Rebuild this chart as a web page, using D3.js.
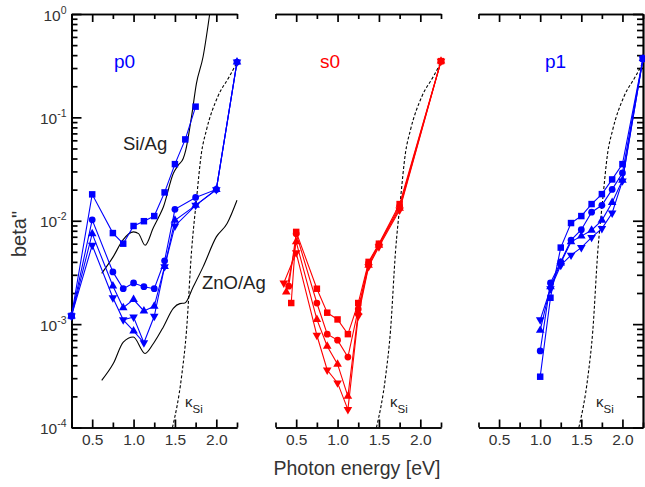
<!DOCTYPE html>
<html>
<head>
<meta charset="utf-8">
<script src="https://cdn.jsdelivr.net/npm/d3@7"></script>
<style>
body { margin: 0; background: #fff; }
text { font-family: "Liberation Sans", Arial, sans-serif; }
</style>
</head>
<body>
<div id="grafico"></div>
<script>
const WIDTH = 645;
const HEIGHT = 487;

// axis ticks
const energyTicks = [0.5, 1.0, 1.5, 2.0];
const energyMinor = [0.25, 0.75, 1.25, 1.75, 2.25];
const decades = [1e-4, 1e-3, 1e-2, 1e-1, 1];
const decadeExp = ["-4", "-3", "-2", "-1", "0"];

// p0 panel
const p0SquareE = [0.25, 0.5, 0.75, 0.875, 1.0, 1.125, 1.25, 1.375, 1.5, 1.625, 1.75];
const p0Square = [1.2e-3, 0.018, 7.6e-3, 6.0e-3, 8.9e-3, 9.9e-3, 0.0111, 0.0188, 0.0353, 0.0612, 0.127];
const p0E = [0.25, 0.5, 0.75, 0.875, 1.0, 1.125, 1.25, 1.375, 1.5, 1.75, 2.0, 2.25];
const p0Circle = [1.2e-3, 0.0102, 3.2e-3, 2.2e-3, 2.5e-3, 2.3e-3, 2.2e-3, 4.1e-3, 0.0129, 0.0168, 0.0201, 0.343];
const p0Up = [1.2e-3, 7.5e-3, 2.34e-3, 1.44e-3, 1.73e-3, 1.34e-3, 1.49e-3, 3.6e-3, 0.0101, 0.0141, 0.0201, 0.343];
const p0Down = [1.2e-3, 5.8e-3, 1.8e-3, 1.1e-3, 1.17e-3, 6.6e-4, 1.19e-3, 3.6e-3, 0.0089, 0.0141, 0.02, 0.343];
const p0ExtraE = [0.875, 1.0, 1.125];
const p0Extra = [1.1e-3, 8.6e-4, 6.6e-4];

// s0 panel
const s0SquareE = [0.44, 0.5, 0.75, 0.875, 1.0, 1.125, 1.25, 1.375, 1.5, 1.75, 2.25];
const s0Square = [1.6e-3, 7.8e-3, 2.2e-3, 1.29e-3, 1.11e-3, 8.0e-4, 1.6e-3, 4.0e-3, 6.0e-3, 0.0145, 0.35];
const s0CircleE = [0.41, 0.5, 0.75, 0.875, 1.0, 1.125, 1.25, 1.375, 1.5, 1.75, 2.25];
const s0Circle = [2.33e-3, 7.5e-3, 1.6e-3, 8.0e-4, 7.0e-4, 4.8e-4, 1.4e-3, 3.9e-3, 5.9e-3, 0.0138, 0.35];
const s0UpE = [0.38, 0.5, 0.75, 0.875, 1.0, 1.125, 1.25, 1.375, 1.5, 1.75, 2.25];
const s0Up = [2.05e-3, 6.25e-3, 1.11e-3, 6.1e-4, 4.1e-4, 2.0e-4, 1.3e-3, 3.7e-3, 5.8e-3, 0.0132, 0.35];
const s0DownE = [0.35, 0.5, 0.75, 0.875, 1.0, 1.125, 1.25, 1.375, 1.5, 1.75, 2.25];
const s0Down = [2.5e-3, 4.9e-3, 7.8e-4, 3.6e-4, 2.7e-4, 1.49e-4, 1.2e-3, 3.6e-3, 5.6e-3, 0.0127, 0.35];

// p1 panel
const p1E = [1.0, 1.125, 1.25, 1.375, 1.5, 1.625, 1.75, 1.875, 2.0, 2.25];
const p1Square = [3.1e-4, 1.8e-3, 5.5e-3, 9.5e-3, 0.0111, 0.0145, 0.0181, 0.0251, 0.0353, 0.37];
const p1Circle = [5.5e-4, 2.5e-3, 4.0e-3, 6.5e-3, 8.2e-3, 0.0121, 0.0141, 0.0201, 0.029, 0.37];
const p1Up = [8.7e-4, 2.3e-3, 3.9e-3, 6.25e-3, 7.1e-3, 8.1e-3, 0.0101, 0.015, 0.0247, 0.37];
const p1Down = [1.1e-3, 2.2e-3, 3.7e-3, 4.65e-3, 5.5e-3, 6.9e-3, 8.4e-3, 0.0119, 0.0243, 0.37];

// black reference curves
const siAgE = [0.615, 0.755, 0.87, 1.0, 1.06, 1.14, 1.24, 1.30, 1.36, 1.48, 1.54, 1.60, 1.63, 1.70, 1.76, 1.84, 1.92];
const siAg = [3.1e-3, 4.5e-3, 6.5e-3, 7.8e-3, 7.5e-3, 5.8e-3, 8.6e-3, 0.0107, 0.0136, 0.0287, 0.0345, 0.040, 0.048, 0.101, 0.213, 0.386, 1.0];
const znoAgE = [0.615, 0.755, 0.876, 0.997, 1.139, 1.24, 1.36, 1.48, 1.56, 1.62, 1.72, 1.84, 2.0, 2.13, 2.25];
const znoAg = [2.86e-4, 4.15e-4, 6.7e-4, 7.5e-4, 5.2e-4, 6.5e-4, 9.4e-4, 1.42e-3, 1.58e-3, 1.6e-3, 2.29e-3, 3.58e-3, 6.98e-3, 9.4e-3, 0.0158];
const kappaE = [1.47, 1.58, 1.64, 1.70, 1.76, 1.82, 1.88, 2.02, 2.16, 2.25];
const kappa = [1e-4, 3.1e-4, 8.7e-4, 5e-3, 0.016, 0.045, 0.075, 0.16, 0.25, 0.34];

const BLUE = "#0000ff";
const RED = "#ff0000";

let svg = d3.select("#grafico")
    .append("svg")
    .attr("width", WIDTH)
    .attr("height", HEIGHT);

let y = d3.scaleLog().domain([1e-4, 1]).range([427.5, 14]);

let panels = [
    {x0: 71.5, x1: 237, left: true, right: false, name: "p0", color: BLUE, nameX: 114, kX: 185},
    {x0: 275.5, x1: 441, left: false, right: false, name: "s0", color: RED, nameX: 320, kX: 390},
    {x0: 478.5, x1: 643, left: false, right: true, name: "p1", color: BLUE, nameX: 545, kX: 596}
];

function zip(es, vs) {
    return es.map((e, i) => [e, vs[i]]);
}

function marker(shape) {
    if (shape === "square") return d3.symbol(d3.symbolSquare, 42)();
    if (shape === "circle") return d3.symbol(d3.symbolCircle, 36)();
    return d3.symbol(d3.symbolTriangle, 32)();
}

function drawSeries(g, x, es, vs, shape, color, marked) {
    let pts = zip(es, vs);
    let line = d3.line().x(d => x(d[0])).y(d => y(d[1]));
    g.append("path")
        .attr("d", line(pts))
        .style("fill", "none")
        .style("stroke", color)
        .style("stroke-width", 1.1);
    g.selectAll(null)
        .data(pts.filter((d, i) => !marked || marked.includes(i)))
        .enter()
        .append("path")
        .attr("d", marker(shape))
        .attr("transform", d => "translate(" + x(d[0]) + "," + y(d[1]) + ")" + (shape === "down" ? " rotate(180)" : ""))
        .style("fill", color);
}

function drawCurve(g, x, es, vs, dashed) {
    let line = d3.line().x(d => x(d[0])).y(d => y(d[1])).curve(d3.curveMonotoneX);
    g.append("path")
        .attr("d", line(zip(es, vs)))
        .style("fill", "none")
        .style("stroke", "#000")
        .style("stroke-width", 1.1)
        .style("stroke-dasharray", dashed ? "3,2" : null);
}

panels.forEach((p, idx) => {
    let x = d3.scaleLinear().domain([0.25, 2.25]).range([p.x0, p.x1]);
    p.x = x;
    let g = svg.append("g");

    // bottom axis
    let bottom = g.append("g").attr("transform", "translate(0,427.5)");
    bottom.call(d3.axisBottom(x).tickValues(energyTicks).tickSize(-8).tickSizeOuter(0)
        .tickPadding(6).tickFormat(d3.format(".1f")));
    bottom.append("g").call(d3.axisBottom(x).tickValues(energyMinor).tickSize(-5).tickSizeOuter(0).tickFormat(""));
    bottom.selectAll("text").style("font-size", "15.5px").style("fill", "#333")
        .style("font-family", "'Liberation Sans', Arial, sans-serif");

    // top axis
    let top = g.append("g").attr("transform", "translate(0,14)");
    top.call(d3.axisTop(x).tickValues(energyTicks).tickSize(-8).tickSizeOuter(0).tickFormat(""));
    top.append("g").call(d3.axisTop(x).tickValues(energyMinor).tickSize(-5).tickSizeOuter(0).tickFormat(""));

    let minorY = y.ticks().filter(v => !decades.some(d => Math.abs(d - v) / d < 1e-6));

    if (p.left) {
        let left = g.append("g").attr("transform", "translate(" + p.x0 + ",0)");
        left.call(d3.axisLeft(y).tickValues(decades).tickSize(-10).tickSizeOuter(0).tickFormat(""));
        left.append("g").call(d3.axisLeft(y).tickValues(minorY).tickSize(-6).tickSizeOuter(0).tickFormat(""));
        let labels = g.selectAll(".ylab")
            .data(decades)
            .enter()
            .append("text")
            .attr("class", "ylab")
            .attr("x", p.x0 - 5)
            .attr("y", d => y(d) + 6.5)
            .attr("text-anchor", "end")
            .style("font-size", "15.5px")
            .style("fill", "#333");
        labels.append("tspan").text("10");
        labels.append("tspan")
            .attr("dy", -7)
            .style("font-size", "10.5px")
            .text((d, i) => decadeExp[i]);
    }
    if (p.right) {
        let right = g.append("g").attr("transform", "translate(" + p.x1 + ",0)");
        right.call(d3.axisRight(y).tickValues(decades).tickSize(-10).tickSizeOuter(0).tickFormat(""));
        right.append("g").call(d3.axisRight(y).tickValues(minorY).tickSize(-6).tickSizeOuter(0).tickFormat(""));
    }

    g.selectAll(".domain, .tick line").style("stroke", "#000").style("stroke-width", 1.7);

    // kappa_Si dashed curve
    drawCurve(g, x, kappaE, kappa, true);

    let k = g.append("text")
        .attr("x", p.kX)
        .attr("y", 407)
        .style("font-size", "15px")
        .style("fill", "#222");
    k.append("tspan").text("κ");
    k.append("tspan").attr("dy", 6).style("font-size", "11.5px").text("Si");

    g.append("text")
        .attr("x", p.nameX)
        .attr("y", 68)
        .style("font-size", "19px")
        .style("fill", p.color)
        .text(p.name);
});

// p0 panel contents
let x0 = panels[0].x;
let g0 = svg.append("g");
drawCurve(g0, x0, siAgE, siAg, false);
drawCurve(g0, x0, znoAgE, znoAg, false);
g0.append("text").attr("x", 123).attr("y", 150).style("font-size", "18.5px").style("fill", "#222").text("Si/Ag");
g0.append("text").attr("x", 202).attr("y", 289).style("font-size", "18.5px").style("fill", "#222").text("ZnO/Ag");
drawSeries(g0, x0, p0SquareE, p0Square, "square", BLUE);
drawSeries(g0, x0, p0E, p0Circle, "circle", BLUE);
drawSeries(g0, x0, p0E, p0Up, "up", BLUE);
drawSeries(g0, x0, p0E, p0Down, "down", BLUE);
drawSeries(g0, x0, p0ExtraE, p0Extra, "up", BLUE, [1]);

// s0 panel contents
let x1 = panels[1].x;
let g1 = svg.append("g");
drawSeries(g1, x1, s0SquareE, s0Square, "square", RED);
drawSeries(g1, x1, s0CircleE, s0Circle, "circle", RED);
drawSeries(g1, x1, s0UpE, s0Up, "up", RED);
drawSeries(g1, x1, s0DownE, s0Down, "down", RED);

// p1 panel contents
let x2 = panels[2].x;
let g2 = svg.append("g");
drawSeries(g2, x2, p1E, p1Square, "square", BLUE);
drawSeries(g2, x2, p1E, p1Circle, "circle", BLUE);
drawSeries(g2, x2, p1E, p1Up, "up", BLUE);
drawSeries(g2, x2, p1E, p1Down, "down", BLUE);

// axis titles
svg.append("text")
    .attr("x", 357)
    .attr("y", 475)
    .attr("text-anchor", "middle")
    .style("font-size", "19.5px")
    .style("fill", "#333")
    .text("Photon energy [eV]");

svg.append("text")
    .attr("transform", "translate(26,234) rotate(-90)")
    .attr("text-anchor", "middle")
    .style("font-size", "20px")
    .style("fill", "#333")
    .text("beta\"");
</script>
</body>
</html>
